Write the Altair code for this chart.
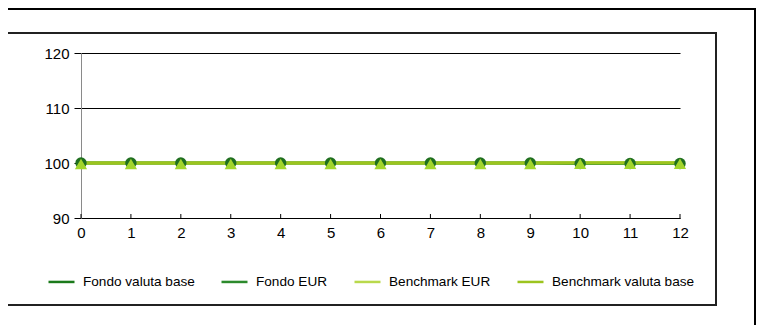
import altair as alt
import pandas as pd

# ---- data ----
periods = list(range(13))
fondo_valuta_base = [100, 100, 100, 100, 100, 100, 100, 100, 100, 100, 99.9, 99.9, 99.9]
fondo_eur = [100, 100, 100, 100, 100, 100, 100, 100, 100, 100, 99.9, 99.9, 99.9]
benchmark_eur = [100, 100, 100, 100, 100, 100, 100, 100, 100, 100, 100.05, 100.05, 100.05]
benchmark_valuta_base = [100, 100, 100, 100, 100, 100, 100, 100, 100, 100, 100.05, 100.05, 100.05]

series_names = ["Fondo valuta base", "Fondo EUR", "Benchmark EUR", "Benchmark valuta base"]
series_colors = ["#1b7a1b", "#2c8a2c", "#b9d94c", "#9cc41e"]
y_ticks = [90, 100, 110, 120]

rows = []
for name, vals in zip(series_names, [fondo_valuta_base, fondo_eur, benchmark_eur, benchmark_valuta_base]):
    for p, v in zip(periods, vals):
        rows.append({"periodo": p, "valore": v, "serie": name})
df = pd.DataFrame(rows)
ticks_df = pd.DataFrame({"periodo": periods})

FONT = "Liberation Sans, Arial, sans-serif"
W, H = 599, 165

x_scale = alt.Scale(domain=[0, 12], nice=False, zero=False)
y_scale = alt.Scale(domain=[90, 120], nice=False, zero=False)

color = alt.Color(
    "serie:N",
    scale=alt.Scale(domain=series_names, range=series_colors),
    sort=series_names,
    legend=alt.Legend(
        title=None,
        orient="none",
        legendX=-34,
        legendY=214,
        direction="horizontal",
        symbolType="stroke",
        symbolSize=676,
        symbolStrokeWidth=2.5,
        labelFont=FONT,
        labelFontSize=13.6,
        labelColor="#000000",
        labelOffset=7,
        columnPadding=21,
        labelLimit=300,
    ),
)

lines = alt.Chart(df).mark_line(strokeWidth=3).encode(
    x=alt.X(
        "periodo:Q",
        scale=x_scale,
        axis=alt.Axis(
            title=None,
            values=periods,
            format="d",
            grid=False,
            ticks=False,
            labelFlush=False,
            domainColor="#000000",
            domainWidth=1,
            labelFont=FONT,
            labelFontSize=15,
            labelColor="#000000",
            labelPadding=7,
        ),
    ),
    y=alt.Y(
        "valore:Q",
        scale=y_scale,
        axis=alt.Axis(
            title=None,
            values=y_ticks,
            grid=True,
            labelFlush=False,
            gridColor="#000000",
            gridWidth=1,
            domainColor="#8a8a8a",
            tickColor="#000000",
            tickSize=7,
            labelFont=FONT,
            labelFontSize=15,
            labelColor="#000000",
            labelPadding=5,
        ),
    ),
    color=color,
    order=alt.Order("periodo:Q"),
)

circles = alt.Chart(df[df["serie"] == "Fondo valuta base"]).mark_point(
    shape="circle", filled=True, size=130, opacity=1, color="#1f6f1f", strokeWidth=0
).encode(x=alt.X("periodo:Q", scale=x_scale), y=alt.Y("valore:Q", scale=y_scale))

triangles = alt.Chart(df[df["serie"] == "Benchmark valuta base"]).mark_point(
    shape="triangle-up", filled=True, size=150, opacity=1, color="#a3d52c", yOffset=1, strokeWidth=0
).encode(x=alt.X("periodo:Q", scale=x_scale), y=alt.Y("valore:Q", scale=y_scale))

xticks = alt.Chart(ticks_df).mark_rule(color="#000000", strokeWidth=1).encode(
    x=alt.X("periodo:Q", scale=x_scale),
    y=alt.value(H),
    y2=alt.value(H - 4),
)

inner_box = alt.Chart(ticks_df).mark_rect(
    fill="#ffffff", fillOpacity=0, stroke="#222222", strokeWidth=1.5
).encode(x=alt.value(-74), x2=alt.value(635), y=alt.value(-20), y2=alt.value(252))

top_line = alt.Chart(ticks_df).mark_rule(color="#000000", strokeWidth=2).encode(
    x=alt.value(-73), x2=alt.value(675), y=alt.value(-44)
)
right_line = alt.Chart(ticks_df).mark_rule(color="#000000", strokeWidth=2).encode(
    x=alt.value(674), y=alt.value(-45), y2=alt.value(272)
)

chart = (
    alt.layer(inner_box, top_line, right_line, lines, circles, triangles, xticks)
    .properties(
        width=W,
        height=H,
        autosize=alt.AutoSizeParams(type="none"),
        padding={"left": 73, "top": 45, "right": 77, "bottom": 107},
        background="#ffffff",
    )
    .configure_view(stroke=None)
)

chart.save("out.html", embed_options={"renderer": "svg", "actions": False})
